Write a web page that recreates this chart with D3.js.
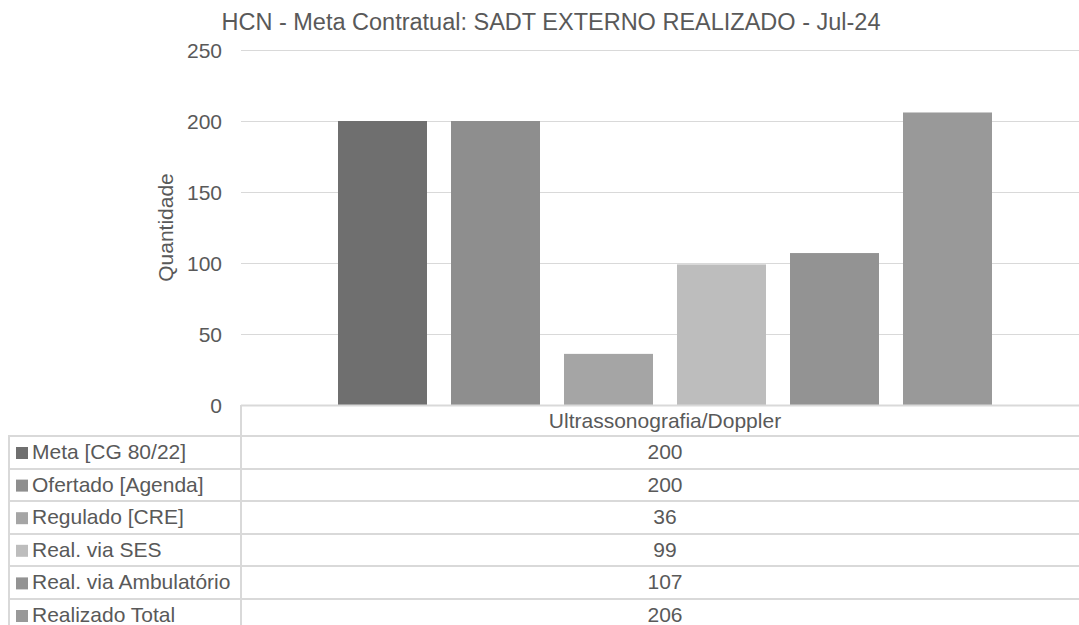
<!DOCTYPE html>
<html>
<head>
<meta charset="utf-8">
<script src="https://cdn.jsdelivr.net/npm/d3@7"></script>
<style>
  body { margin: 0; background: #fff; }
  text { font-family: "Liberation Sans", Arial, sans-serif; fill: #595959; }
</style>
</head>
<body>
<div id="chart"></div>
<script>
// data
const categories = ["Ultrassonografia/Doppler"];
const seriesNames = ["Meta [CG 80/22]", "Ofertado [Agenda]", "Regulado [CRE]", "Real. via SES", "Real. via Ambulatório", "Realizado Total"];
const seriesValues = [200, 200, 36, 99, 107, 206];
const seriesColors = ["#6f6f6f", "#8e8e8e", "#a5a5a5", "#bdbdbd", "#939393", "#999999"];
const yTicks = [0, 50, 100, 150, 200, 250];
const title = "HCN - Meta Contratual: SADT EXTERNO REALIZADO - Jul-24";

const width = 1079, height = 625;
const plot = { left: 241, right: 1079, top: 50, bottom: 405 };
const table = { left: 8, divider: 241, top: 405, rowH: 32.6 };
const fontSize = "21px";

const svg = d3.select("#chart").append("svg")
  .attr("width", width)
  .attr("height", height);

const y = d3.scaleLinear()
  .domain([0, 250])
  .range([plot.bottom, plot.top]);

const x0 = d3.scaleBand()
  .domain(categories)
  .range([plot.left, plot.right]);

// series bars inside the one category
const x1 = d3.scaleBand()
  .domain(seriesNames)
  .range([x0(categories[0]) + 97, x0(categories[0]) + x0.bandwidth() - 87])
  .paddingInner(24 / 113)
  .paddingOuter(0);

// gridlines
svg.append("g")
  .selectAll("line")
  .data(yTicks.slice(1))
  .join("line")
  .attr("x1", plot.left)
  .attr("x2", plot.right)
  .attr("y1", d => Math.round(y(d)) + 0.5)
  .attr("y2", d => Math.round(y(d)) + 0.5)
  .attr("stroke", "#d9d9d9")
  .attr("stroke-width", 1);

// y tick labels
svg.append("g")
  .selectAll("text")
  .data(yTicks)
  .join("text")
  .attr("x", 222)
  .attr("y", d => y(d) + 7.5)
  .attr("text-anchor", "end")
  .attr("font-size", fontSize)
  .text(d => d);

// y axis title
svg.append("text")
  .attr("transform", `translate(173,${(plot.top + plot.bottom) / 2}) rotate(-90)`)
  .attr("text-anchor", "middle")
  .attr("font-size", fontSize)
  .text("Quantidade");

// title
svg.append("text")
  .attr("x", 551)
  .attr("y", 30)
  .attr("text-anchor", "middle")
  .attr("font-size", "23.5px")
  .text(title);

// bars
svg.append("g")
  .selectAll("rect")
  .data(seriesValues)
  .join("rect")
  .attr("x", (d, i) => x1(seriesNames[i]))
  .attr("y", d => y(d))
  .attr("width", x1.bandwidth())
  .attr("height", d => y(0) - y(d))
  .attr("fill", (d, i) => seriesColors[i]);

// data table
const tg = svg.append("g");
const border = "#d9d9d9";
const colCenter = x0(categories[0]) + x0.bandwidth() / 2 + 5;

tg.append("line")
  .attr("x1", table.divider).attr("x2", table.divider)
  .attr("y1", table.top).attr("y2", height)
  .attr("stroke", border).attr("stroke-width", 2);
tg.append("line")
  .attr("x1", table.divider).attr("x2", plot.right)
  .attr("y1", table.top + 0.5).attr("y2", table.top + 0.5)
  .attr("stroke", border).attr("stroke-width", 2);

tg.append("text")
  .attr("x", colCenter)
  .attr("y", table.top + 23)
  .attr("text-anchor", "middle")
  .attr("font-size", fontSize)
  .text(categories[0]);

// row lines
const rowTops = seriesNames.map((_, i) => table.top + 31 + table.rowH * i);
tg.selectAll("line.row")
  .data(rowTops)
  .join("line")
  .attr("class", "row")
  .attr("x1", table.left)
  .attr("x2", plot.right)
  .attr("y1", d => Math.round(d))
  .attr("y2", d => Math.round(d))
  .attr("stroke", border)
  .attr("stroke-width", 2);

tg.append("line")
  .attr("x1", table.left + 1).attr("x2", table.left + 1)
  .attr("y1", rowTops[0]).attr("y2", height)
  .attr("stroke", border).attr("stroke-width", 2);

const rows = tg.selectAll("g.trow")
  .data(seriesNames)
  .join("g")
  .attr("class", "trow")
  .attr("transform", (d, i) => `translate(0,${rowTops[i]})`);

rows.append("rect")
  .attr("x", 16)
  .attr("y", 11)
  .attr("width", 12)
  .attr("height", 12)
  .attr("fill", (d, i) => seriesColors[i]);

rows.append("text")
  .attr("x", 32)
  .attr("y", 23)
  .attr("font-size", fontSize)
  .text(d => d);

rows.append("text")
  .attr("x", colCenter)
  .attr("y", 23)
  .attr("text-anchor", "middle")
  .attr("font-size", fontSize)
  .text((d, i) => seriesValues[i]);
</script>
</body>
</html>
